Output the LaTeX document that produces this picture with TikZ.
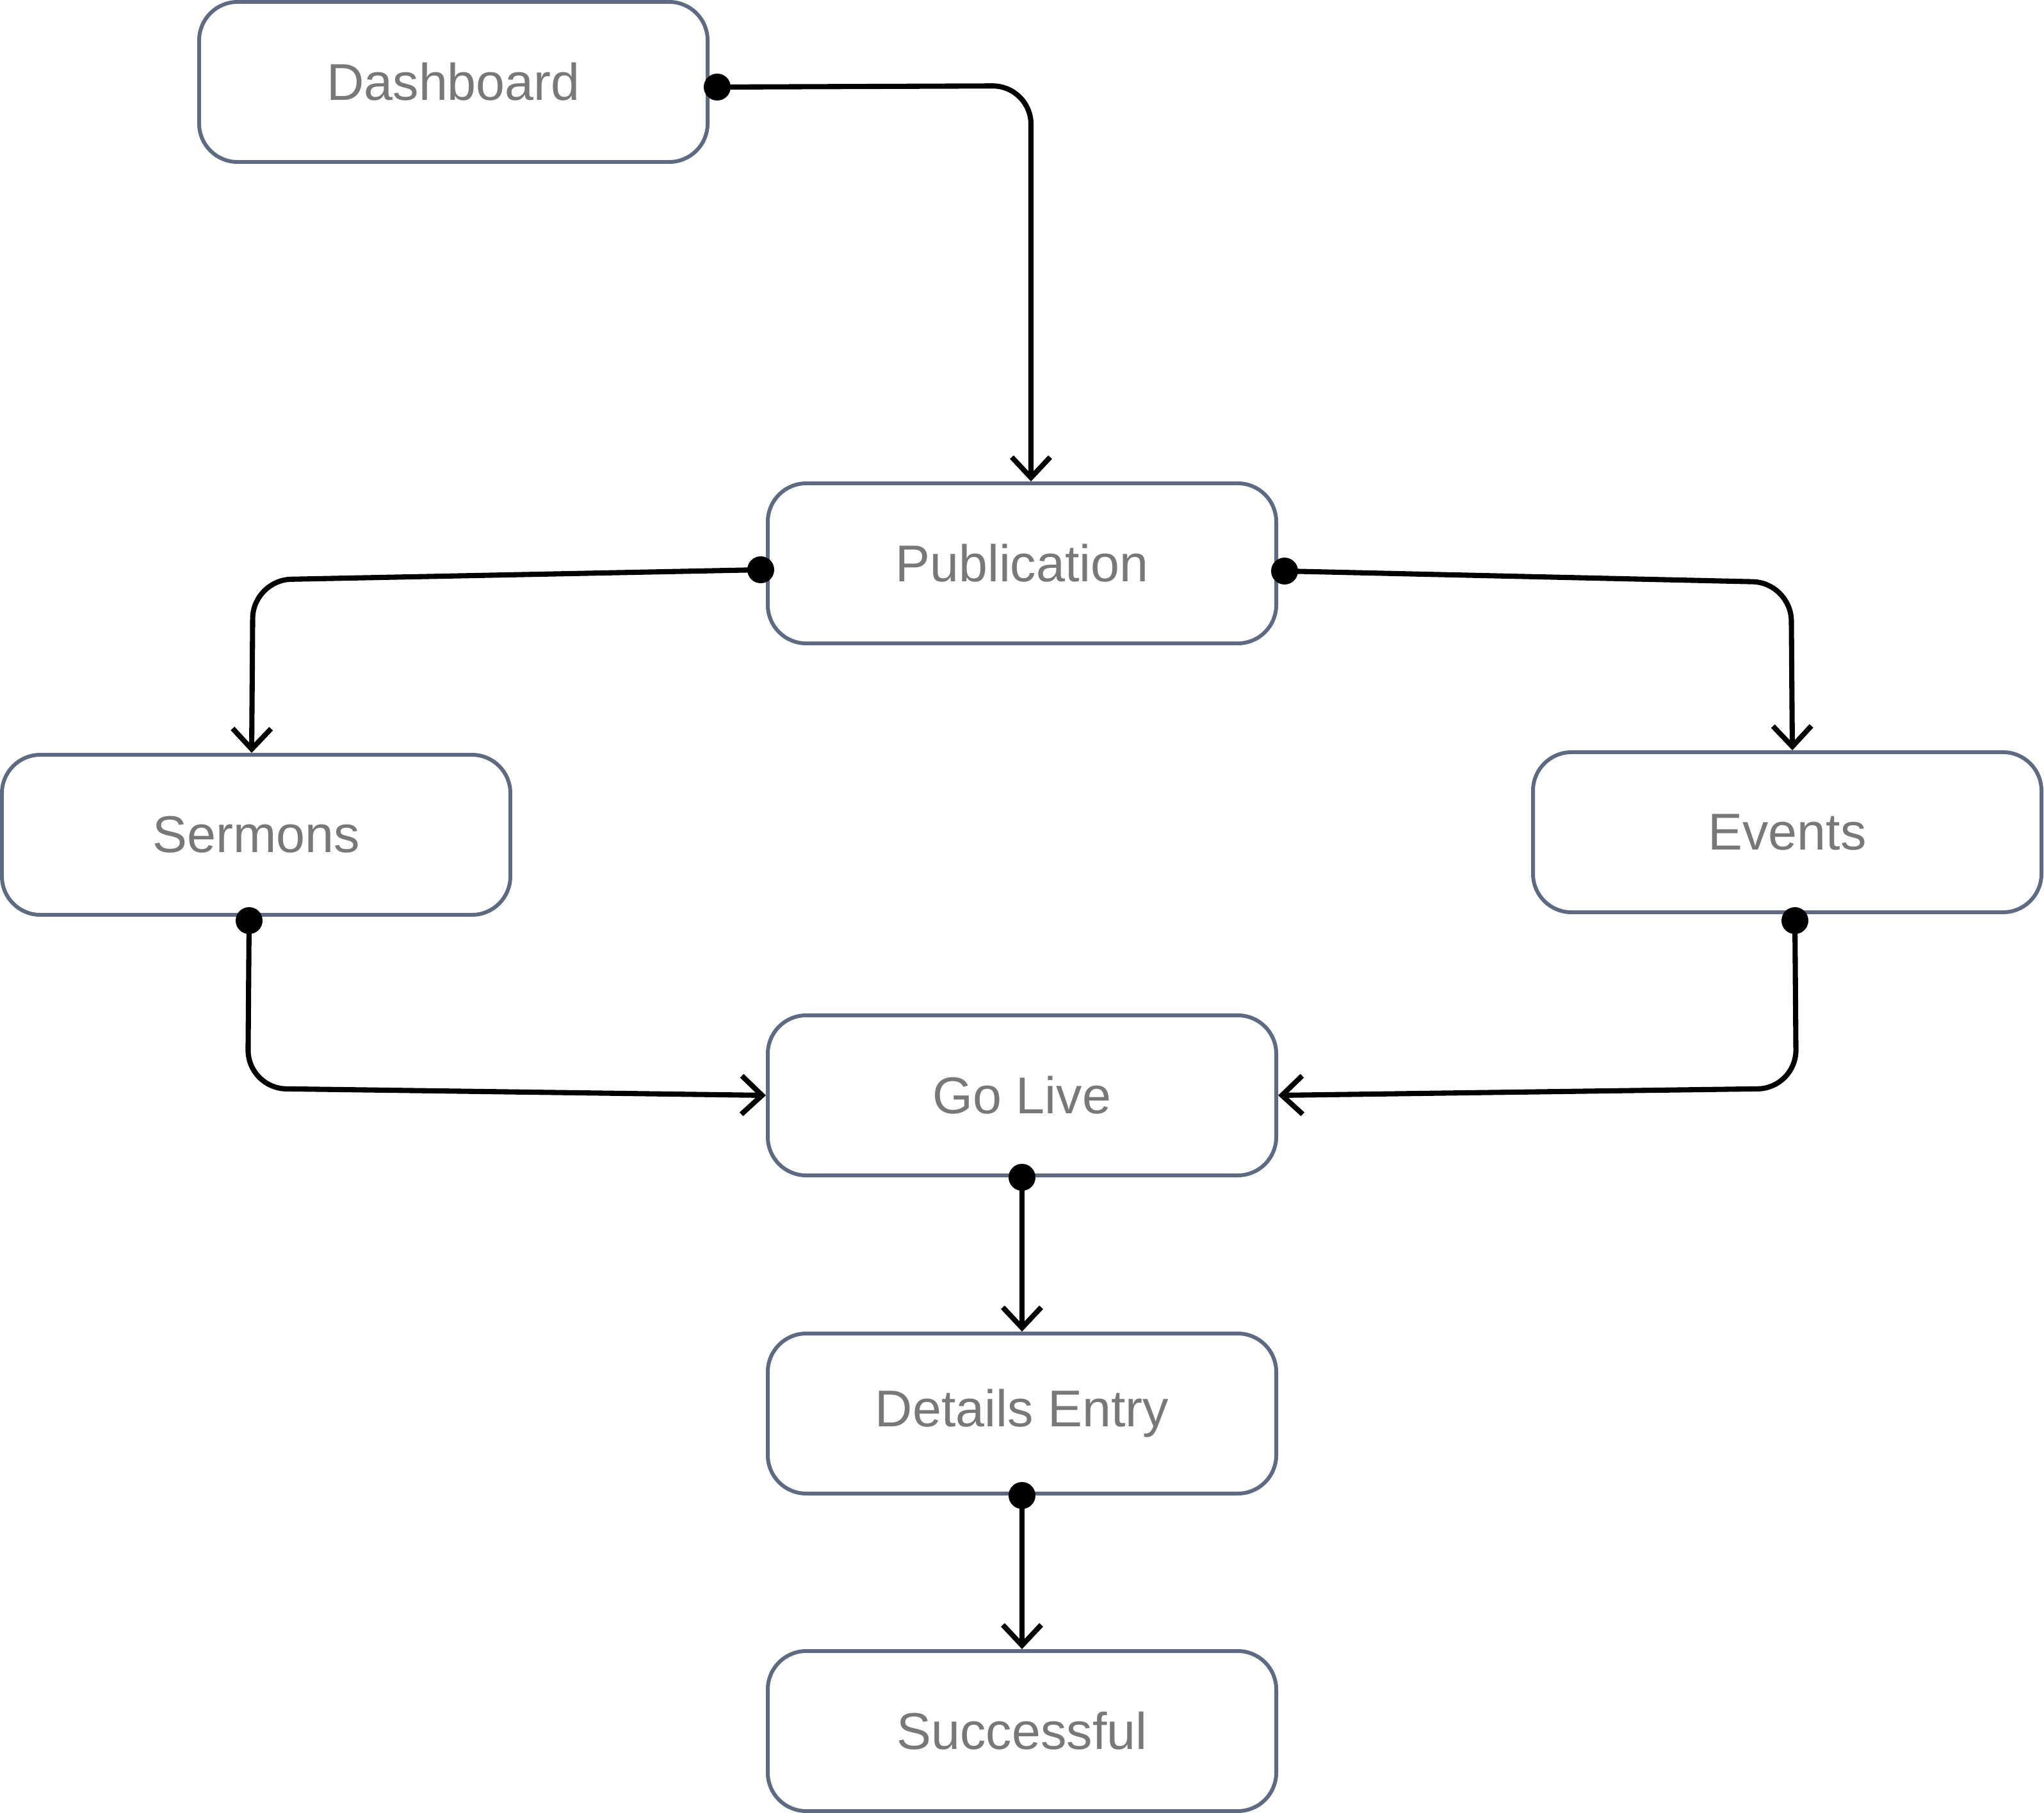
\documentclass[tikz,border=0pt]{standalone}
\usepackage{fontspec}
\setmainfont{Liberation Sans}
\usetikzlibrary{arrows.meta,calc}
\definecolor{boxline}{HTML}{5E6A81}
\definecolor{boxtext}{HTML}{787878}
\tikzset{
  flowbox/.style={draw=boxline, line width=1.7pt, fill=white, rounded corners=0.6cm,
    minimum width=7.94cm, minimum height=2.5cm, inner sep=0pt, text=boxtext,
    font=\fontsize{23}{27}\selectfont},
  link/.style={draw=black, line width=2.3pt, rounded corners=0.6cm,
    -{Straight Barb[length=0.32cm, width=0.6cm, line width=2.3pt]}},
  dot/.style={fill=black, circle, inner sep=0pt, minimum size=0.42cm}
}
\begin{document}
\begin{tikzpicture}
\useasboundingbox (0,0) rectangle (31.92,-28.32);
\node[flowbox] (dash) at (7.08,-1.28) {Dashboard};
\node[flowbox] (pub) at (15.96,-8.80) {Publication};
\node[flowbox] (serm) at (4.00,-13.04) {Sermons};
\node[flowbox] (ev) at (27.91,-13.00) {Events};
\node[flowbox] (live) at (15.96,-17.11) {Go Live};
\node[flowbox] (det) at (15.96,-22.08) {Details Entry};
\node[flowbox] (succ) at (15.96,-27.04) {Successful};

\coordinate (s1) at ([shift={(0.12,-0.08)}]dash.east);
\coordinate (e1) at ([xshift=0.14cm]pub.north);
\coordinate (s2) at ([shift={(-0.08,-0.1)}]pub.west);
\coordinate (e2) at ([xshift=-0.07cm]serm.north);
\coordinate (s3) at ([shift={(0.1,-0.12)}]pub.east);
\coordinate (e3) at ([xshift=0.08cm]ev.north);
\coordinate (s4) at ([shift={(-0.11,-0.06)}]serm.south);
\coordinate (s5) at ([shift={(0.12,-0.1)}]ev.south);

\draw[link] (s1) -- (16.10,-1.34) -- (e1);
\draw[link] (s2) -- (3.95,-9.06) -- (e2);
\draw[link] (s3) -- (27.97,-9.10) -- (e3);
\draw[link] (s4) -- (3.87,-17.00) -- (live.west);
\draw[link] (s5) -- (28.05,-17.00) -- (live.east);
\draw[link] (live.south) -- (det.north);
\draw[link] (det.south) -- (succ.north);

\node[dot] (d1) at (s1) {};
\node[dot] (d2) at (s2) {};
\node[dot] (d3) at (s3) {};
\node[dot] (d4) at (s4) {};
\node[dot] (d5) at (s5) {};
\node[dot] (d6) at (live.south) {};
\node[dot] (d7) at (det.south) {};
\end{tikzpicture}
\end{document}
